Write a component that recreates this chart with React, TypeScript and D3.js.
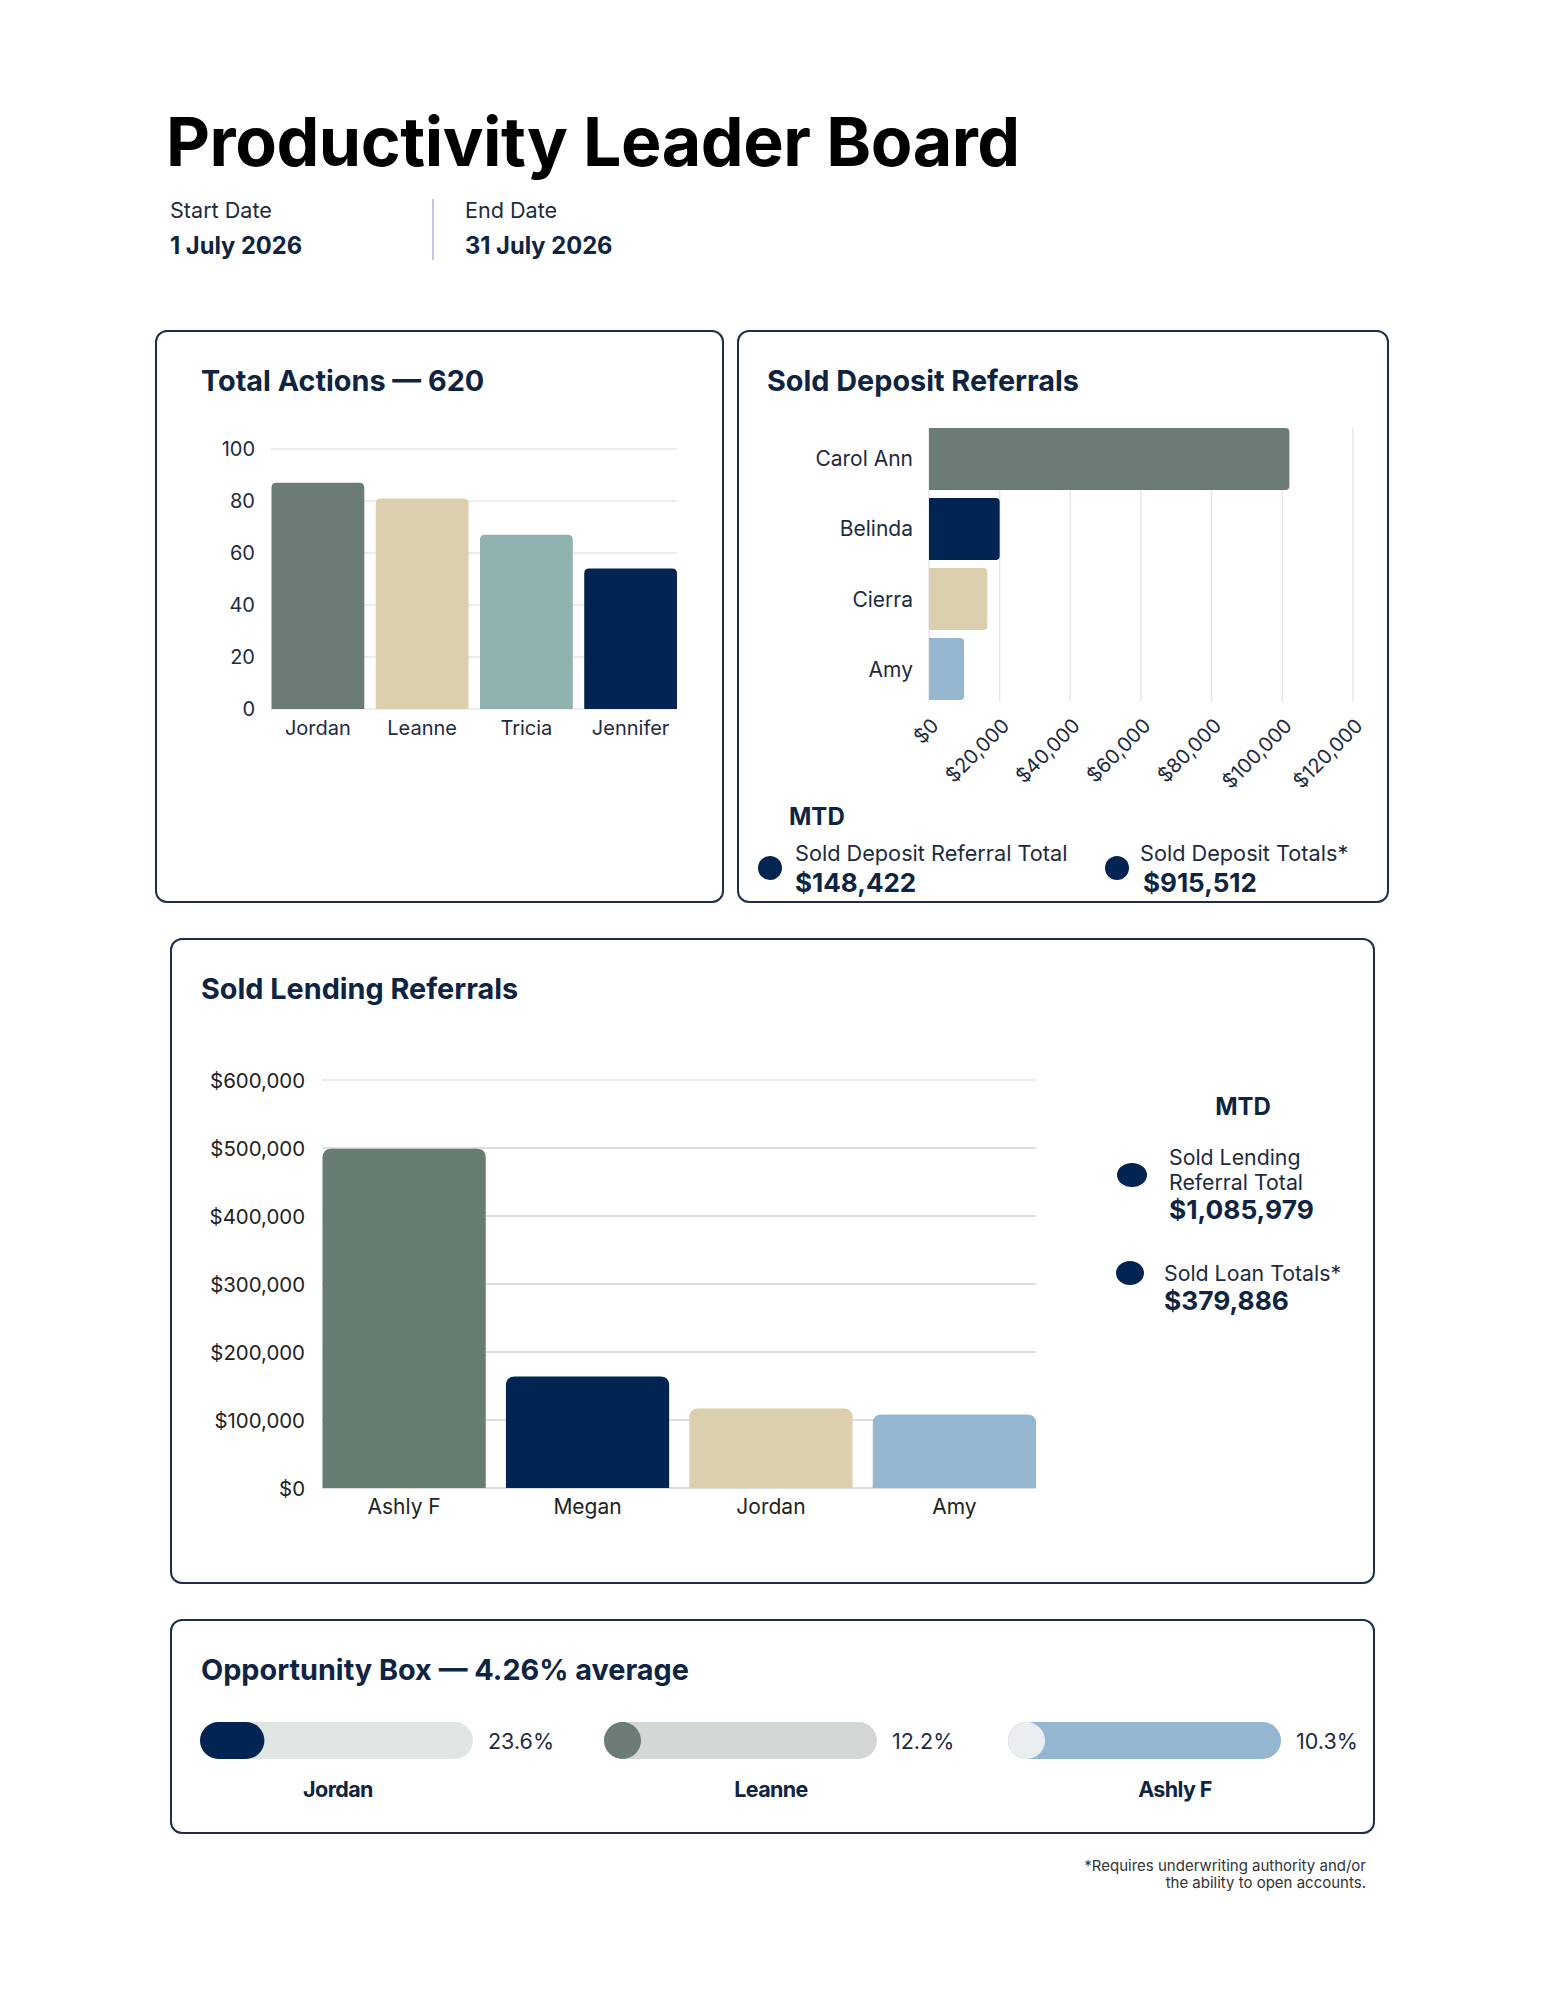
import React from "react";
import * as d3 from "d3";

// ---------- DATA ----------
const actionNames = ["Jordan", "Leanne", "Tricia", "Jennifer"];
const actionValues = [87, 81, 67, 54];
const actionColors = ["#6a7c73", "#dbcfad", "#8fb1b0", "#022452"];
const actionTicks = [0, 20, 40, 60, 80, 100];

const depositNames = ["Carol Ann", "Belinda", "Cierra", "Amy"];
const depositValues = [102000, 20000, 16500, 9922];
const depositColors = ["#6a7c73", "#022452", "#dbcfad", "#94b6d1"];
const depositTicks = [0, 20000, 40000, 60000, 80000, 100000, 120000];

const lendingNames = ["Ashly F", "Megan", "Jordan", "Amy"];
const lendingValues = [499000, 164000, 117000, 108000];
const lendingColors = ["#677d71", "#022452", "#dbcfad", "#94b6d1"];
const lendingTicks = [0, 100000, 200000, 300000, 400000, 500000, 600000];

const oppNames = ["Jordan", "Leanne", "Ashly F"];
const oppValues = [23.6, 12.2, 10.3];
const oppFill = ["#022452", "#6a7c73", "#e9eef1"];
const oppTrack = ["#e0e6e4", "#d3d8d6", "#94b6d1"];

const depositMtdLabels = ["Sold Deposit Referral Total", "Sold Deposit Totals*"];
const depositMtdValues = ["$148,422", "$915,512"];
const lendingMtdLabels = [["Sold Lending", "Referral Total"], ["Sold Loan Totals*"]];
const lendingMtdValues = ["$1,085,979", "$379,886"];

// ---------- STYLE ----------
const FONT = "Inter, 'Noto Sans', sans-serif";
const NAVY_TEXT = "#0f2442";
const BORDER = "#1c2d4d";
const DOT = "#022452";
const TITLE_SIZE = 28.8;

const money = (v: number) => "$" + d3.format(",")(v);

function topRounded(x: number, y: number, w: number, h: number, r: number) {
  r = Math.max(0, Math.min(r, w / 2, h));
  return `M${x},${y + h}V${y + r}Q${x},${y} ${x + r},${y}H${x + w - r}Q${x + w},${y} ${x + w},${y + r}V${y + h}Z`;
}
function rightRounded(x: number, y: number, w: number, h: number, r: number) {
  r = Math.max(0, Math.min(r, h / 2, w));
  return `M${x},${y}H${x + w - r}Q${x + w},${y} ${x + w},${y + r}V${y + h - r}Q${x + w},${y + h} ${x + w - r},${y + h}H${x}Z`;
}

function Panel({ x, y, w, h }: { x: number; y: number; w: number; h: number }) {
  return <rect x={x} y={y} width={w} height={h} rx={11} fill="#fff" stroke={BORDER} strokeWidth={2} />;
}

function ActionsChart() {
  const x = d3.scaleBand<string>().domain(actionNames).range([271.5, 677]).paddingInner(0.11).paddingOuter(0);
  const y = d3.scaleLinear().domain([0, 100]).range([709, 449]);
  return (
    <g>
      {actionTicks.map((t) => (
        <g key={t}>
          <line x1={271} x2={677} y1={y(t)} y2={y(t)} stroke="#e7e7ea" strokeWidth={1.5} />
          <text x={255} y={y(t)} textAnchor="end" dominantBaseline="central" fontSize={20} fill="#1d2b3f">
            {t}
          </text>
        </g>
      ))}
      {actionNames.map((n, i) => (
        <g key={n}>
          <path d={topRounded(x(n)!, y(actionValues[i]), x.bandwidth(), y(0) - y(actionValues[i]), 5)} fill={actionColors[i]} />
          <text x={x(n)! + x.bandwidth() / 2} y={735} textAnchor="middle" fontSize={20} fill="#1d2b3f">
            {n}
          </text>
        </g>
      ))}
    </g>
  );
}

function DepositChart() {
  const x = d3.scaleLinear().domain([0, 120000]).range([929, 1353]);
  const y = d3.scaleBand<string>().domain(depositNames).range([428, 700]).paddingInner(0.115).paddingOuter(0);
  return (
    <g>
      {depositTicks.map((t) => (
        <g key={t}>
          <line x1={x(t)} x2={x(t)} y1={428} y2={702} stroke="#e6e6e9" strokeWidth={1.5} />
          <text
            transform={`translate(${x(t) + 6},${722}) rotate(-45)`}
            textAnchor="end"
            dominantBaseline="central"
            fontSize={20}
            fill="#1d2b3f"
          >
            {money(t)}
          </text>
        </g>
      ))}
      {depositNames.map((n, i) => (
        <g key={n}>
          <path d={rightRounded(x(0), y(n)!, x(depositValues[i]) - x(0), y.bandwidth(), 4)} fill={depositColors[i]} />
          <text x={913} y={y(n)! + y.bandwidth() / 2} textAnchor="end" dominantBaseline="central" fontSize={21} fill="#1d2b3f">
            {n}
          </text>
        </g>
      ))}
    </g>
  );
}

function LendingChart() {
  const x = d3.scaleBand<string>().domain(lendingNames).range([322.5, 1036]).paddingInner(0.11).paddingOuter(0);
  const y = d3.scaleLinear().domain([0, 600000]).range([1488, 1080]);
  return (
    <g>
      {lendingTicks.map((t) => (
        <g key={t}>
          <line x1={322} x2={1036} y1={y(t)} y2={y(t)} stroke={t === 600000 ? "#e6e6e6" : "#d4d4d4"} strokeWidth={1.5} />
          <text x={305} y={y(t)} textAnchor="end" dominantBaseline="central" fontSize={20.4} fill="#222">
            {money(t)}
          </text>
        </g>
      ))}
      {lendingNames.map((n, i) => (
        <g key={n}>
          <path d={topRounded(x(n)!, y(lendingValues[i]), x.bandwidth(), y(0) - y(lendingValues[i]), 9)} fill={lendingColors[i]} />
          <text x={x(n)! + x.bandwidth() / 2} y={1514} textAnchor="middle" fontSize={21} fill="#222">
            {n}
          </text>
        </g>
      ))}
    </g>
  );
}

function Opportunity() {
  const starts = [200, 604, 1008];
  const nameCenters = [338, 771, 1175];
  const W = 273;
  const H = 37;
  const top = 1722;
  return (
    <g>
      {oppNames.map((n, i) => {
        const w = d3.scaleLinear().domain([0, 100]).range([0, W]);
        const fw = Math.max(H, w(oppValues[i]));
        const x0 = starts[i];
        return (
          <g key={n}>
            <rect x={x0} y={top} width={W} height={H} rx={H / 2} fill={oppTrack[i]} />
            <rect x={x0} y={top} width={fw} height={H} rx={H / 2} fill={oppFill[i]} />
            <text x={x0 + W + 15} y={top + H / 2} dominantBaseline="central" fontSize={21.5} fill="#1d2b3f">
              {oppValues[i]}%
            </text>
            <text x={nameCenters[i]} y={1797} textAnchor="middle" fontSize={21.5} fontWeight={700} fill={NAVY_TEXT} letterSpacing={-0.6}>
              {n}
            </text>
          </g>
        );
      })}
    </g>
  );
}

export default function App() {
  return (
    <svg
      width={1545}
      height={1999}
      style={{ position: "absolute", left: 0, top: 0, background: "#fff" }}
      fontFamily={FONT}
    >
      <rect x={0} y={0} width={1545} height={1999} fill="#fff" />
      {/* Header */}
      <text x={166} y={166} fontSize={68} fontWeight={700} fill="#000" letterSpacing={-0.45}>
        Productivity Leader Board
      </text>
      <text x={170} y={218} fontSize={21.6} fill="#1d2b3f">Start Date</text>
      <text x={170} y={254} fontSize={23.7} fontWeight={700} fill={NAVY_TEXT}>1 July 2026</text>
      <line x1={433} x2={433} y1={199} y2={260} stroke="#c7c5e6" strokeWidth={2} />
      <text x={465} y={218} fontSize={21.6} fill="#1d2b3f">End Date</text>
      <text x={465} y={254} fontSize={23.7} fontWeight={700} fill={NAVY_TEXT}>31 July 2026</text>

      {/* Panel 1 */}
      <Panel x={156} y={331} w={567} h={571} />
      <text x={201} y={391} fontSize={TITLE_SIZE} fontWeight={700} fill={NAVY_TEXT}>Total Actions — 620</text>
      <ActionsChart />

      {/* Panel 2 */}
      <Panel x={738} y={331} w={650} h={571} />
      <text x={767} y={391} fontSize={TITLE_SIZE} fontWeight={700} fill={NAVY_TEXT}>Sold Deposit Referrals</text>
      <DepositChart />
      <text x={789} y={825} fontSize={24} fontWeight={700} fill={NAVY_TEXT}>MTD</text>
      {depositMtdLabels.map((l, i) => {
        const xs = [770, 1117];
        const tx = [795, 1140];
        return (
          <g key={l}>
            <circle cx={xs[i]} cy={868} r={12} fill={DOT} />
            <text x={tx[i]} y={861} fontSize={21.7} fill="#1d2b3f">{l}</text>
            <text x={tx[i] + (i === 1 ? 3 : 0)} y={892} fontSize={26} fontWeight={700} fill={NAVY_TEXT}>
              {depositMtdValues[i]}
            </text>
          </g>
        );
      })}

      {/* Panel 3 */}
      <Panel x={171} y={939} w={1203} h={644} />
      <text x={201} y={999} fontSize={TITLE_SIZE} fontWeight={700} fill={NAVY_TEXT}>Sold Lending Referrals</text>
      <LendingChart />
      <text x={1243} y={1115} fontSize={24} fontWeight={700} fill={NAVY_TEXT} textAnchor="middle">MTD</text>
      <ellipse cx={1132} cy={1175} rx={15} ry={12} fill={DOT} />
      <text x={1169} y={1165} fontSize={21.3} fill="#1d2b3f">{lendingMtdLabels[0][0]}</text>
      <text x={1169} y={1190} fontSize={21.3} fill="#1d2b3f">{lendingMtdLabels[0][1]}</text>
      <text x={1169} y={1219} fontSize={26.3} fontWeight={700} fill={NAVY_TEXT}>{lendingMtdValues[0]}</text>
      <ellipse cx={1130} cy={1273} rx={14} ry={12} fill={DOT} />
      <text x={1164} y={1281} fontSize={21.3} fill="#1d2b3f">{lendingMtdLabels[1][0]}</text>
      <text x={1164} y={1310} fontSize={26.3} fontWeight={700} fill={NAVY_TEXT}>{lendingMtdValues[1]}</text>

      {/* Panel 4 */}
      <Panel x={171} y={1620} w={1203} h={213} />
      <text x={201} y={1680} fontSize={TITLE_SIZE} fontWeight={700} fill={NAVY_TEXT}>Opportunity Box — 4.26% average</text>
      <Opportunity />

      {/* Footnote */}
      <text x={1366} y={1871} fontSize={15} fill="#333" textAnchor="end">*Requires underwriting authority and/or</text>
      <text x={1366} y={1888} fontSize={15} fill="#333" textAnchor="end">the ability to open accounts.</text>
    </svg>
  );
}
